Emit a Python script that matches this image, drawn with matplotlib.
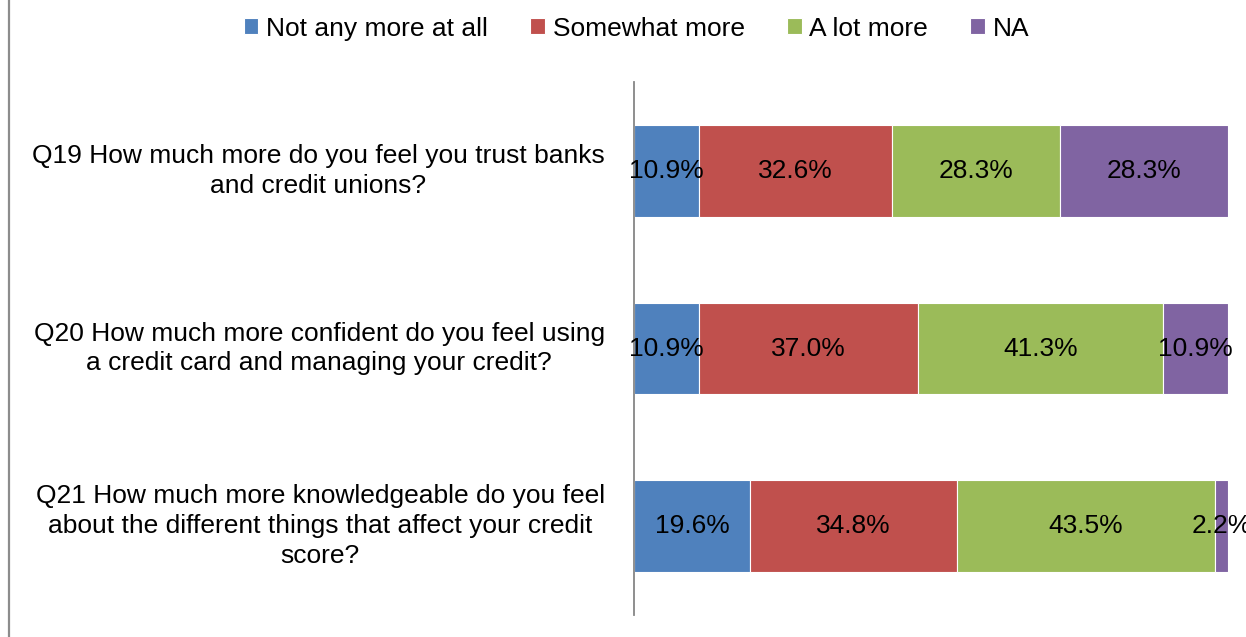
import numpy as np
import matplotlib
matplotlib.use("Agg")
import matplotlib.pyplot as plt
from matplotlib.lines import Line2D

plt.rcParams["font.family"] = ["Liberation Sans", "DejaVu Sans"]

questions = [
    "Q19 How much more do you feel you trust banks\nand credit unions?",
    "Q20 How much more confident do you feel using\na credit card and managing your credit?",
    "Q21 How much more knowledgeable do you feel\nabout the different things that affect your credit\nscore?",
]
series = ["Not any more at all", "Somewhat more", "A lot more", "NA"]
not_any = [10.9, 10.9, 19.6]
somewhat = [32.6, 37.0, 34.8]
a_lot = [28.3, 41.3, 43.5]
na = [28.3, 10.9, 2.2]
colors = ["#4F81BD", "#C0504D", "#9BBB59", "#8064A2"]

values = np.array([not_any, somewhat, a_lot, na])
totals = values.sum(axis=0)
FS = 19

fig = plt.figure(figsize=(12.46, 6.37), dpi=100)
ax = fig.add_axes([0.5088, 0.0345, 0.4768, 0.8368])

y = np.arange(len(questions))
left = np.zeros(len(questions))
for vals, name, col in zip(values, series, colors):
    ax.barh(y, vals, left=left, height=0.515, color=col, edgecolor="white",
            linewidth=0.8, label=name)
    for yi, l, v in zip(y, left, vals):
        ax.text(l + v / 2, yi, f"{v:.1f}%", ha="center", va="center",
                fontsize=FS, color="black")
    left += vals

ax.set_xlim(0, totals.max())
ax.set_ylim(2.5, -0.5)
ax.set_yticks(y)
ax.set_yticklabels(questions, fontsize=FS, multialignment="center",
                   linespacing=1.3, va="center")
ax.tick_params(axis="y", length=0, pad=21)
ax.set_xticks([])
for side in ["top", "right", "bottom"]:
    ax.spines[side].set_visible(False)
ax.spines["left"].set_color("#868686")
ax.spines["left"].set_linewidth(1.3)

fig.legend(loc="center", bbox_to_anchor=(0.511, 0.955), ncol=4, frameon=False,
           fontsize=FS, handlelength=0.55, handleheight=0.55, handletextpad=0.3,
           columnspacing=1.6)

# frame edge on the left side
fig.add_artist(Line2D([0.0072, 0.0072], [0, 1], transform=fig.transFigure,
                      color="#8c8c8c", linewidth=1.6))

fig.savefig("out.png", dpi=100)
